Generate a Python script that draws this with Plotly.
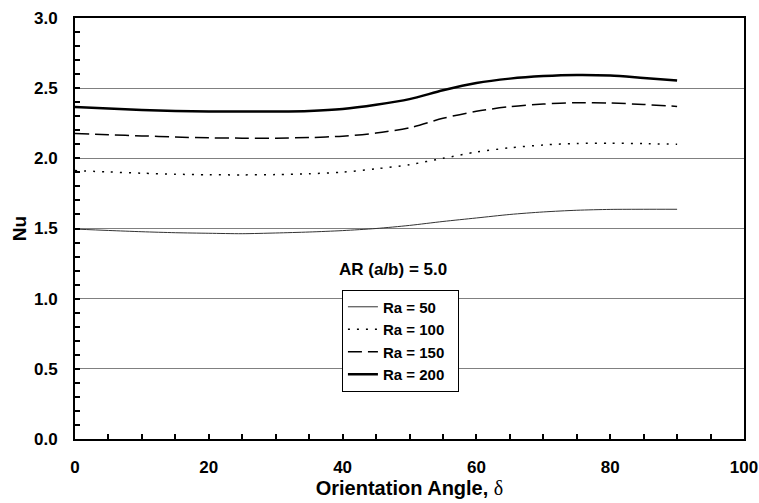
import plotly.graph_objects as go

angles = [0, 5, 10, 15, 20, 25, 30, 35, 40, 45, 50, 55, 60, 65, 70, 75, 80, 85, 90]
nu_ra50 = [1.496, 1.486, 1.477, 1.470, 1.466, 1.463, 1.468, 1.475, 1.485, 1.500, 1.522, 1.550, 1.575, 1.600, 1.618, 1.630, 1.636, 1.637, 1.637]
nu_ra100 = [1.913, 1.903, 1.894, 1.887, 1.883, 1.882, 1.884, 1.890, 1.902, 1.925, 1.955, 2.000, 2.045, 2.075, 2.095, 2.106, 2.108, 2.105, 2.100]
nu_ra150 = [2.177, 2.168, 2.160, 2.152, 2.146, 2.144, 2.144, 2.148, 2.158, 2.180, 2.218, 2.285, 2.335, 2.368, 2.387, 2.396, 2.394, 2.384, 2.370]
nu_ra200 = [2.365, 2.355, 2.345, 2.338, 2.334, 2.333, 2.334, 2.338, 2.352, 2.382, 2.422, 2.485, 2.537, 2.568, 2.586, 2.594, 2.590, 2.573, 2.555]

series_names = ["Ra = 50", "Ra = 100", "Ra = 150", "Ra = 200"]
x_ticks = [0, 20, 40, 60, 80, 100]
y_ticks = [0.0, 0.5, 1.0, 1.5, 2.0, 2.5, 3.0]

FONT = "Liberation Sans, Arial, sans-serif"

styles = [
    dict(color="#333333", width=1, dash="solid"),
    dict(color="black", width=1.5, dash="2px,7px"),
    dict(color="black", width=1.5, dash="14px,6px"),
    dict(color="black", width=2.5, dash="solid"),
]

fig = go.Figure()
for name, ys, st in zip(series_names, [nu_ra50, nu_ra100, nu_ra150, nu_ra200], styles):
    fig.add_trace(go.Scatter(x=angles, y=ys, name=name + "\u00a0\u00a0", mode="lines",
                             line=dict(shape="spline", smoothing=0.8, **st)))

axis_common = dict(
    showline=True, linecolor="black", linewidth=2, mirror=True,
    ticks="inside", ticklen=5, tickwidth=1.5, tickcolor="black",
    tickfont=dict(family=FONT, size=17, color="black", weight="bold"),
    zeroline=False, automargin=False,
)

fig.update_xaxes(
    range=[0, 100], tickvals=x_ticks, showgrid=False,
    minor=dict(dtick=5, ticks="inside", ticklen=5, tickcolor="black", tickwidth=1.5),
    title=dict(text="Orientation Angle, <span style='font-family:Liberation Serif;font-weight:normal'>δ</span>",
               font=dict(family=FONT, size=20, color="black", weight="bold"), standoff=4),
    ticklabelstandoff=12,
    **axis_common,
)
fig.update_yaxes(
    range=[0, 3.0], tickvals=y_ticks, tickformat=".1f",
    showgrid=True, gridcolor="#808080", gridwidth=1,
    minor=dict(dtick=0.1, ticks="inside", ticklen=5, tickcolor="black", tickwidth=1.5, showgrid=False),
    title=dict(text="Nu", font=dict(family=FONT, size=19, color="black", weight="bold"), standoff=2),
    ticklabelstandoff=12,
    **axis_common,
)

fig.add_annotation(
    text="AR (a/b) = 5.0", xref="paper", yref="paper", x=0.475, y=0.403,
    showarrow=False, xanchor="center", yanchor="middle",
    font=dict(family=FONT, size=17, color="black", weight="bold"),
)

fig.update_layout(
    width=759, height=503,
    margin=dict(l=75, r=15, t=18, b=64),
    paper_bgcolor="white", plot_bgcolor="white",
    showlegend=True,
    legend=dict(
        x=0.399, y=0.355, xanchor="left", yanchor="top",
        bgcolor="white", bordercolor="black", borderwidth=1,
        font=dict(family=FONT, size=15, color="black", weight="bold"),
        tracegroupgap=0,
    ),
)

fig.write_html("out.html")
